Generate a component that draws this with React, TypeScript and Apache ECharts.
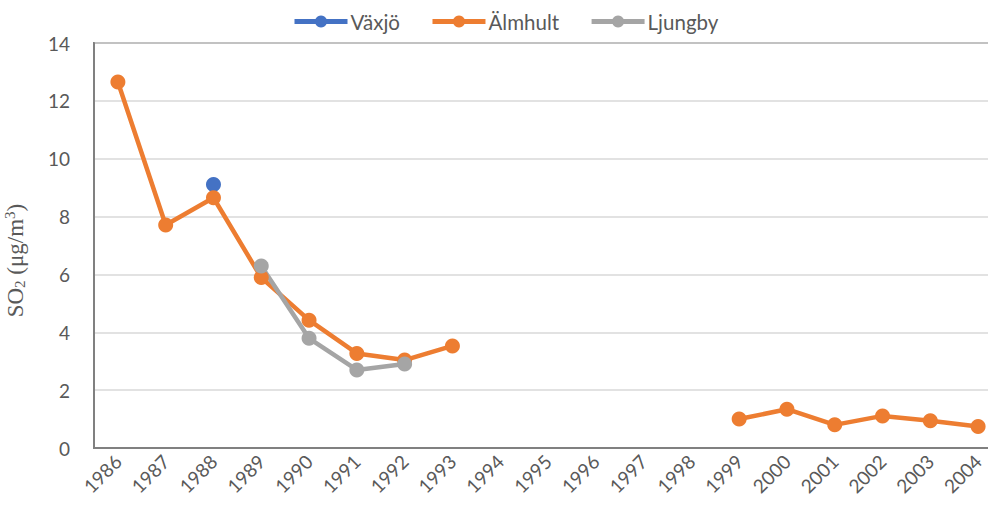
import React, { useEffect, useRef } from "react";
import * as echarts from "echarts";

const years = ["1986","1987","1988","1989","1990","1991","1992","1993","1994","1995","1996","1997","1998","1999","2000","2001","2002","2003","2004"];
const vaxjo = [null,null,9.11,null,null,null,null,null,null,null,null,null,null,null,null,null,null,null,null];
const almhult = [12.65,7.71,8.65,5.89,4.42,3.27,3.04,3.53,null,null,null,null,null,1.0,1.34,0.8,1.11,0.94,0.74];
const ljungby = [null,null,null,6.29,3.79,2.7,2.9,null,null,null,null,null,null,null,null,null,null,null,null];
const yTicks = { min: 0, max: 14, interval: 2 };

const FONT = "Lato, 'Open Sans', sans-serif";
const SERIF = "'Liberation Serif', serif";

export default function App() {
  const ref = useRef<HTMLDivElement>(null);
  useEffect(() => {
    const chart = echarts.init(ref.current!, undefined, { renderer: "svg" });
    const mk = (name: string, data: (number | null)[], color: string) => ({
      name, type: "line", data, connectNulls: false,
      symbol: "circle", symbolSize: 15,
      lineStyle: { width: 4.5, color }, itemStyle: { color },
    });
    chart.setOption({
      animation: false,
      backgroundColor: "#ffffff",
      legend: {
        top: 6, left: 287, itemWidth: 53, itemHeight: 15, itemGap: 30,
        lineStyle: { width: 5 },
        textStyle: { fontFamily: FONT, fontSize: 20.5, color: "#595959", padding: [0, 0, 0, -2] },
        data: ["Växjö", "Älmhult", "Ljungby"],
      },
      grid: { left: 94, right: -14, top: 43, bottom: 67, show: true, borderColor: "#808080", borderWidth: 2, containLabel: false, outerBoundsMode: "none" },
      xAxis: {
        type: "category", data: years, boundaryGap: true,
        axisLine: { lineStyle: { color: "#808080", width: 2 } },
        axisTick: { show: false },
        axisLabel: { rotate: 45, fontFamily: FONT, fontSize: 19, color: "#595959", margin: 10, interval: 0 },
      },
      yAxis: {
        type: "value", ...yTicks,
        axisLine: { show: true, lineStyle: { color: "#808080", width: 2 } },
        axisTick: { show: false },
        splitLine: { lineStyle: { color: "#d9d9d9", width: 1.5 } },
        axisLabel: { fontFamily: FONT, fontSize: 19, color: "#595959", margin: 24 },
        name: "{a|SO}{sub|2}{a| (μg/m}{sup|3}{a|)}",
        nameLocation: "middle", nameRotate: 90, nameGap: 66,
        nameTextStyle: {
          padding: [0, 30, 0, 0],
          rich: {
            a: { fontFamily: SERIF, fontSize: 23, color: "#595959", lineHeight: 26 },
            sub: { fontFamily: SERIF, fontSize: 15, color: "#595959", lineHeight: 26, padding: [10, 0, 0, 0] },
            sup: { fontFamily: SERIF, fontSize: 15, color: "#595959", lineHeight: 26, padding: [0, 0, 10, 0] },
          },
        },
      },
      series: [
        mk("Växjö", vaxjo, "#4472C4"),
        mk("Älmhult", almhult, "#ED7D31"),
        mk("Ljungby", ljungby, "#A5A5A5"),
      ],
    });
    return () => chart.dispose();
  }, []);
  return <div ref={ref} style={{ position: "fixed", left: 0, top: 0, width: 988, height: 515 }} />;
}
